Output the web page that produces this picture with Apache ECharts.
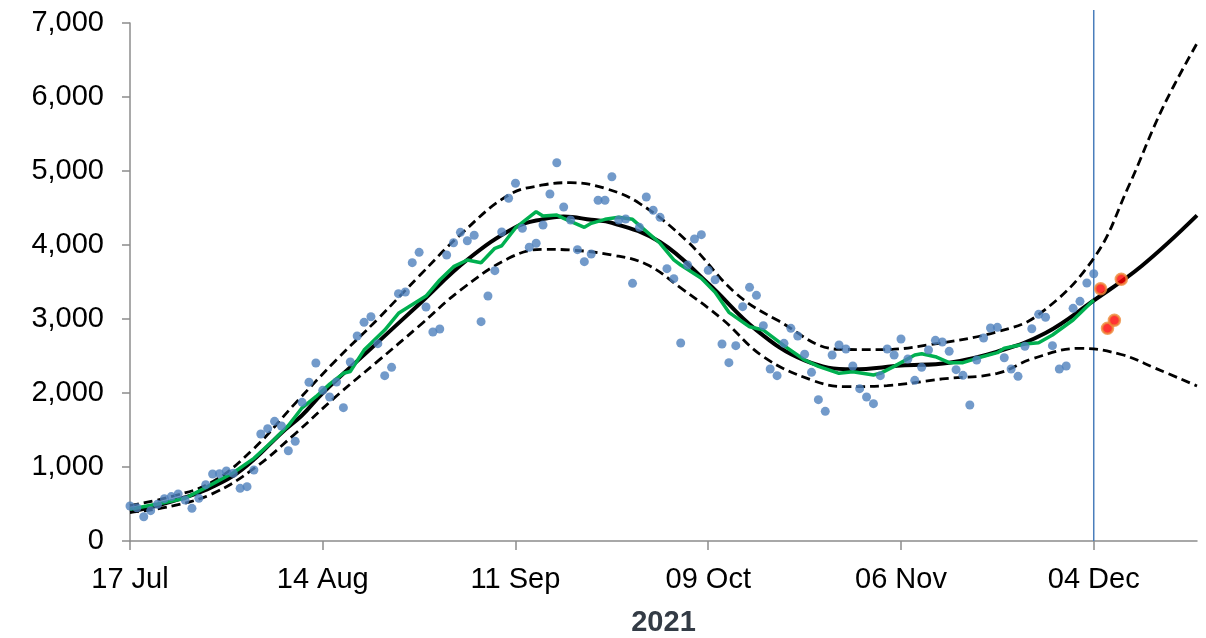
<!DOCTYPE html>
<html>
<head>
<meta charset="utf-8">
<script src="https://cdn.jsdelivr.net/npm/echarts@6/dist/echarts.min.js"></script>
<style>html,body{margin:0;padding:0;background:#fff}#c{width:1206px;height:638px}</style>
</head>
<body>
<div id="c"></div>
<script>
// Day 0 = 17 Jul 2021; the axis runs to day 155 (19 Dec 2021)
const startDate = [2021, 6, 17];
const dayCount = 156;
const tickEvery = 28;
const xTickLabels = ['17 Jul', '14 Aug', '11 Sep', '09 Oct', '06 Nov', '04 Dec'];
const yTicks = [0, 1000, 2000, 3000, 4000, 5000, 6000, 7000];
const xAxisName = '2021';

// daily values (blue dots), day 0 .. 140
const dailyValues = [
  473, 450, 328, 410, 496, 572, 600, 635, 554, 441,
  577, 761, 905, 910, 946, 914, 712, 734, 959, 1446,
  1518, 1617, 1554, 1220, 1347, 1874, 2145, 2405, 2036, 1946,
  2149, 1802, 2419, 2770, 2955, 3031, 2667, 2234, 2347, 3342,
  3365, 3761, 3901, 3162, 2824, 2865, 3865, 4031, 4171, 4058,
  4131, 2964, 3311, 3653, 4176, 4631, 4834, 4226, 3969, 4023,
  4270, 4689, 5112, 4514, 4338, 3937, 3775, 3878, 4604, 4604,
  4923, 4338, 4351, 3482, 4239, 4649, 4469, 4374, 3680, 3545,
  2676, 3730, 4081, 4140, 3658, 3531, 2662, 2410, 2640, 3167,
  3428, 3320, 2910, 2324, 2234, 2671, 2874, 2770, 2523, 2279,
  1910, 1752, 2514, 2649, 2595, 2365, 2059, 1946, 1856, 2234,
  2595, 2514, 2730, 2459, 2171, 2347, 2581, 2712, 2689, 2563,
  2315, 2239, 1838, 2446, 2743, 2878, 2887, 2477, 2324, 2225,
  2631, 2869, 3063, 3023, 2640, 2324, 2365, 3144, 3239, 3486,
  3612
];

// later observations (red dots): [day, value]
const newPoints = [[141, 3410], [142, 2874], [143, 2982], [144, 3536]];

// fitted trend (solid black): [day, value]
const trendDays =   [0, 4, 8, 11, 15, 18, 22, 25, 28, 35, 42, 49, 56, 60, 63, 67, 70, 77, 84, 91, 98, 105, 112, 119, 126, 133, 140, 147, 155];
const trendValues = [400, 480, 590, 690, 880, 1100, 1460, 1700, 2000, 2600, 3200, 3800, 4240, 4350, 4385, 4340, 4300, 4040, 3480, 2850, 2440, 2320, 2370, 2410, 2560, 2810, 3250, 3720, 4400];

// upper bound (dashed)
const upperDays =   [0, 6, 12, 18, 24, 30, 36, 42, 48, 55, 60, 64, 69, 74, 81, 88, 94, 103, 109, 116, 126, 132, 140, 145, 150, 155];
const upperValues = [480, 600, 800, 1250, 1860, 2450, 3000, 3580, 4140, 4676, 4811, 4842, 4766, 4563, 4045, 3347, 2986, 2590, 2585, 2650, 2828, 3060, 3820, 4780, 5850, 6725];

// lower bound (dashed)
const lowerDays =   [0, 6, 12, 18, 24, 30, 36, 42, 48, 55, 60, 64, 70, 75, 80, 86, 92, 99, 104, 110, 118, 126, 131, 138, 144, 149, 155];
const lowerValues = [385, 470, 640, 980, 1450, 1960, 2430, 2905, 3390, 3820, 3942, 3932, 3865, 3740, 3420, 3000, 2491, 2176, 2086, 2100, 2190, 2266, 2460, 2604, 2520, 2333, 2095];

// 7-day average (green)
const avgDays =   [0, 4, 8, 11, 15, 18, 21, 23, 25, 27, 29, 31, 32, 34, 37, 39, 43, 45, 47, 49, 51, 53, 54, 56, 59, 60, 62, 63, 66, 67, 69, 71, 73, 77, 79, 80, 83, 85, 87, 90, 92, 95, 98, 100, 103, 105, 108, 109, 111, 114, 115, 117, 119, 121, 123, 126, 127, 130, 132, 134, 137, 140];
const avgValues = [428, 500, 577, 721, 923, 1117, 1374, 1560, 1800, 1950, 2120, 2266, 2290, 2580, 2851, 3077, 3310, 3527, 3707, 3797, 3761, 3955, 3990, 4230, 4450, 4392, 4405, 4360, 4239, 4293, 4347, 4374, 4347, 4023, 3800, 3730, 3550, 3360, 3090, 2896, 2851, 2640, 2446, 2360, 2266, 2288, 2243, 2266, 2360, 2514, 2530, 2491, 2410, 2410, 2469, 2545, 2604, 2662, 2680, 2784, 2986, 3257];

// date of the vertical marker (day index)
const markerDay = 140;

const monthNames = ['Jan','Feb','Mar','Apr','May','Jun','Jul','Aug','Sep','Oct','Nov','Dec'];
const categories = [];
for (let i = 0; i < dayCount; i++) {
  const d = new Date(startDate[0], startDate[1], startDate[2] + i);
  categories.push(String(d.getDate()).padStart(2, '0') + ' ' + monthNames[d.getMonth()]);
}
const pairs = (xs, ys) => xs.map((x, i) => [x, ys[i]]);

const axisGray = '#8c8c8c';
const fontFam = '"Liberation Sans", Arial, sans-serif';

const chart = echarts.init(document.getElementById('c'), null, {renderer: 'canvas'});
chart.setOption({
  animation: false,
  backgroundColor: '#ffffff',
  grid: [
    {left: 130, right: 9, top: 23, bottom: 97, containLabel: false, outerBoundsMode: 'none'},
    {left: 130, right: 9, top: 10, bottom: 97, containLabel: false, outerBoundsMode: 'none'}
  ],
  xAxis: [{
    type: 'category',
    gridIndex: 0,
    data: categories,
    boundaryGap: false,
    name: xAxisName,
    nameLocation: 'middle',
    nameGap: 67,
    nameTextStyle: {fontFamily: fontFam, fontSize: 29, fontWeight: 'bold', color: '#333b45'},
    axisLine: {lineStyle: {color: axisGray, width: 1.5}},
    axisTick: {show: true, interval: tickEvery - 1, length: 9, inside: false, lineStyle: {color: axisGray, width: 1.5}},
    axisLabel: {
      interval: tickEvery - 1,
      margin: 24,
      fontFamily: fontFam, fontSize: 29, color: '#000',
      formatter: (v, idx) => (idx % tickEvery === 0 ? xTickLabels[idx / tickEvery] : '')
    },
    splitLine: {show: false}
  }, {
    type: 'category', gridIndex: 1, data: categories, boundaryGap: false, show: false
  }],
  yAxis: [{
    type: 'value',
    gridIndex: 0,
    min: yTicks[0],
    max: yTicks[yTicks.length - 1],
    interval: 1000,
    axisLine: {show: true, lineStyle: {color: axisGray, width: 1.5}},
    axisTick: {show: true, length: 8, lineStyle: {color: axisGray, width: 1.5}},
    axisLabel: {
      margin: 26,
      fontFamily: fontFam, fontSize: 29, color: '#000',
      formatter: v => v.toLocaleString('en-US')
    },
    splitLine: {show: false}
  }, {
    type: 'value', gridIndex: 1, min: 0, max: 1, show: false
  }],
  series: [
    {
      type: 'line', xAxisIndex: 1, yAxisIndex: 1,
      data: [[markerDay, 0], [markerDay, 1]],
      symbol: 'none', lineStyle: {color: '#4a7ebb', width: 1.5}, z: 1, silent: true
    },
    {
      type: 'line', data: pairs(upperDays, upperValues), smooth: 0.4, symbol: 'none',
      lineStyle: {color: '#000', width: 2.8, type: [9, 5]}, z: 2
    },
    {
      type: 'line', data: pairs(lowerDays, lowerValues), smooth: 0.4, symbol: 'none',
      lineStyle: {color: '#000', width: 2.8, type: [9, 5]}, z: 2
    },
    {
      type: 'line', data: pairs(trendDays, trendValues), smooth: 0.4, symbol: 'none',
      lineStyle: {color: '#000', width: 4}, z: 3
    },
    {
      type: 'line', data: pairs(avgDays, avgValues), smooth: false, symbol: 'none',
      lineStyle: {color: '#00b050', width: 3.5}, z: 4
    },
    {
      type: 'scatter', data: dailyValues.map((v, i) => [i, v]), symbolSize: 9,
      itemStyle: {color: '#4f81bd'}, z: 5
    },
    {
      type: 'scatter', data: newPoints, symbolSize: 11,
      itemStyle: {color: '#ff0000', borderColor: '#ed8a3a', borderWidth: 2.5}, z: 6
    }
  ]
});
</script>
</body>
</html>
